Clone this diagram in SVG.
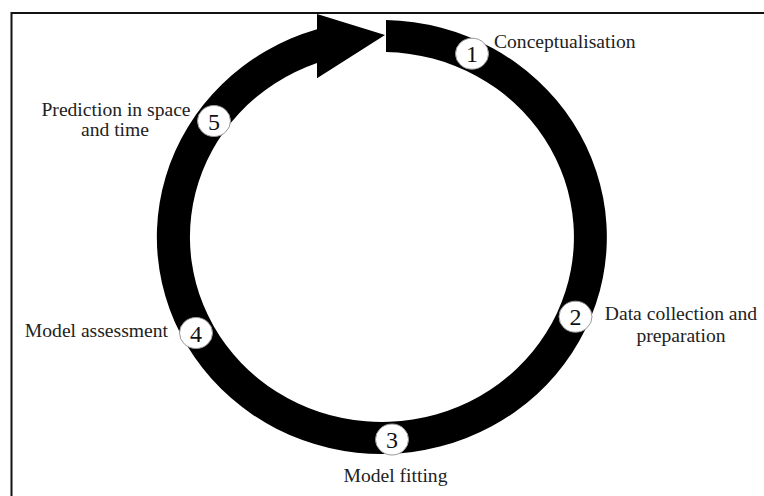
<svg xmlns="http://www.w3.org/2000/svg" width="764" height="496" viewBox="0 0 764 496">
<style>
.lbl{font-family:"Liberation Serif","Times New Roman",serif;font-size:19.6px;fill:#222}
.num{font-family:"Liberation Serif","Times New Roman",serif;font-size:24px;fill:#111;text-anchor:middle}
.badge{fill:#fff;stroke:#999;stroke-width:1}
</style>
<rect width="764" height="496" fill="#fff"/>
<path d="M11.5,496 V13 H764" fill="none" stroke="#111" stroke-width="2"/>
<g id="connectors">
<path d="M386,20.03 A225,217 0 1,1 317,29.2 L317,14 L385,35 L317,78.3 L317,62.9 A192,185 0 1,0 386,52.04 Z" fill="#000"/>
</g>
<g id="step1">
<ellipse class="badge" cx="472" cy="53.7" rx="16.5" ry="15.5"/>
<text class="num" x="472" y="62">1</text>
<text class="lbl" x="494" y="47.5">Conceptualisation</text>
</g>
<g id="step2">
<ellipse class="badge" cx="575.5" cy="316.7" rx="16.5" ry="15.5"/>
<text class="num" x="575.5" y="325">2</text>
<text class="lbl" x="681" y="320" text-anchor="middle">Data collection and</text>
<text class="lbl" x="681" y="341.5" text-anchor="middle">preparation</text>
</g>
<g id="step3">
<ellipse class="badge" cx="392" cy="439.5" rx="16.5" ry="15.5"/>
<text class="num" x="392" y="448">3</text>
<text class="lbl" x="395.5" y="482" text-anchor="middle">Model fitting</text>
</g>
<g id="step4">
<ellipse class="badge" cx="196" cy="333" rx="16.5" ry="15.5"/>
<text class="num" x="196" y="341.5">4</text>
<text class="lbl" x="168" y="337" text-anchor="end">Model assessment</text>
</g>
<g id="step5">
<ellipse class="badge" cx="214" cy="121" rx="16.5" ry="15.5"/>
<text class="num" x="214" y="129.5">5</text>
<text class="lbl" x="116" y="116" text-anchor="middle">Prediction in space</text>
<text class="lbl" x="115" y="136" text-anchor="middle">and time</text>
</g>
</svg>
